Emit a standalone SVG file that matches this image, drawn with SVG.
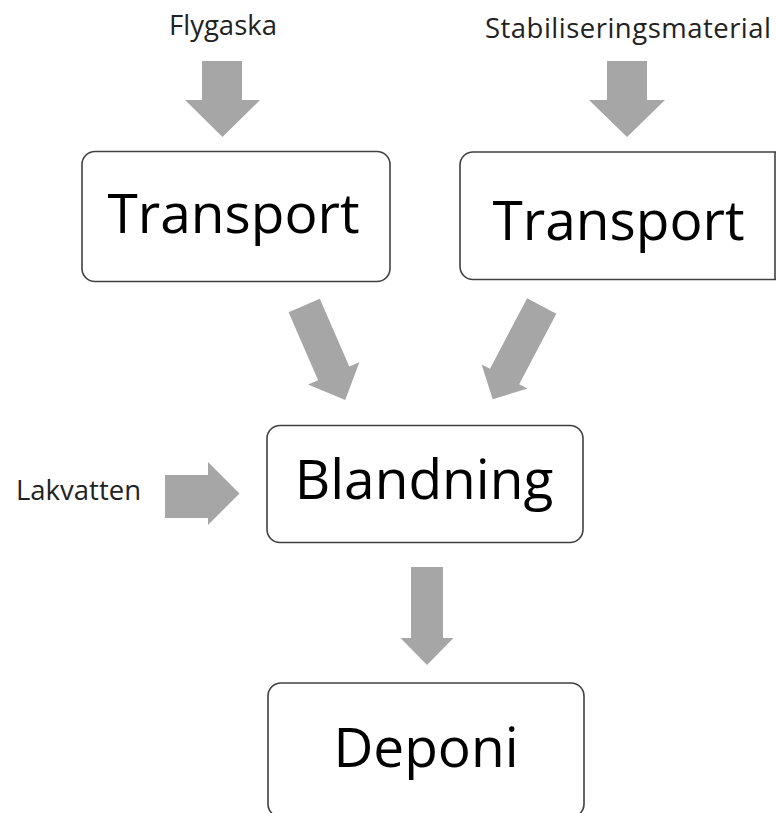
<svg xmlns="http://www.w3.org/2000/svg" width="776" height="813" viewBox="0 0 776 813">
<style>
.box{fill:#fff;stroke:#404040;stroke-width:1.6}
.lbl{font-family:"Open Sans","Liberation Sans",sans-serif;font-size:55px;fill:#000;text-anchor:middle}
.in{font-family:"Open Sans","Liberation Sans",sans-serif;font-size:27.5px;fill:#222;text-anchor:middle}
.arr{fill:#a6a6a6}
</style>
<rect width="776" height="813" fill="#fff"/>
<g id="connectors">
<polygon class="arr" points="202,61 242,61 242,100 260,100 222.5,137 185,100 202,100"/>
<polygon class="arr" points="607,61 647,61 647,100 665,100 627,137 589,100 607,100"/>
<polygon class="arr" points="288.6,312.3 319.8,298.7 349.3,366.6 359.4,362.3 345.2,400 308,384.5 318.1,380.2"/>
<polygon class="arr" points="527.1,298.3 556.3,313.7 519.2,384.2 527.6,388.6 492.7,399.3 481.6,364.4 490,368.8"/>
<polygon class="arr" points="165,475 208,475 208,462 239.5,493.5 208,525 208,518 165,518"/>
<polygon class="arr" points="411,567 443,567 443,638 453.5,638 427,665 400.5,638 411,638"/>
</g>
<g id="flygaska"><text class="in" x="223" y="35">Flygaska</text></g>
<g id="stabiliseringsmaterial"><text class="in" x="628" y="38" textLength="286" lengthAdjust="spacing">Stabiliseringsmaterial</text></g>
<g id="lakvatten"><text class="in" x="78.5" y="500">Lakvatten</text></g>
<g id="transport1">
<rect class="box" x="82" y="151.5" width="308" height="130" rx="13"/>
<text class="lbl" x="233.5" y="233">Transport</text>
</g>
<g id="transport2">
<rect class="box" x="460" y="152" width="340" height="127.5" rx="13"/>
<line x1="775" y1="152" x2="775" y2="279.5" stroke="#404040" stroke-width="1.6"/>
<text class="lbl" x="618.5" y="239.5">Transport</text>
</g>
<g id="blandning">
<rect class="box" x="267" y="425.5" width="316" height="117" rx="13"/>
<text class="lbl" x="424" y="498.5">Blandning</text>
</g>
<g id="deponi">
<rect class="box" x="268" y="683" width="316" height="134" rx="13"/>
<text class="lbl" x="426" y="767">Deponi</text>
</g>
</svg>
